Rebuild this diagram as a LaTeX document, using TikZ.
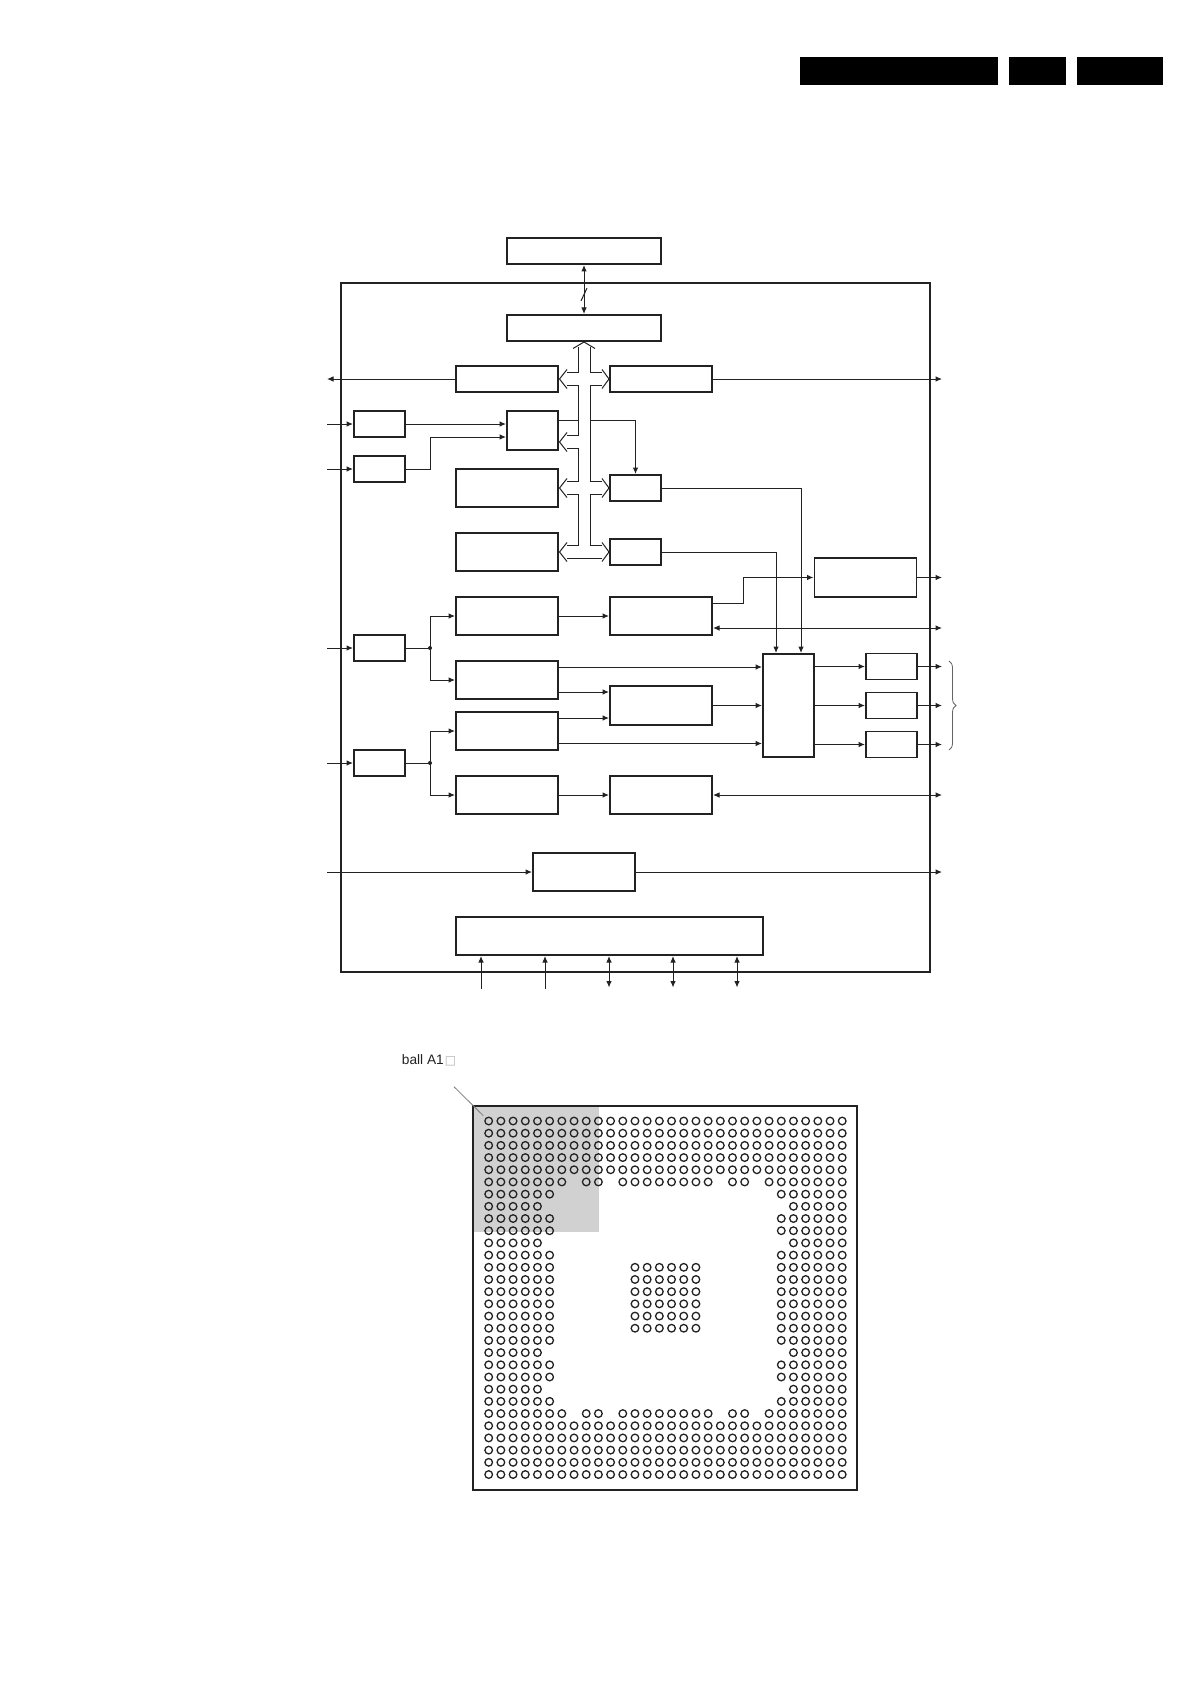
\documentclass[tikz,border=0pt]{standalone}
\usepackage{xcolor}
\usepackage{fontspec}
\setmainfont{Liberation Sans}
\newfontfamily\symfont{DejaVu Sans}
\usetikzlibrary{arrows.meta,positioning,decorations.pathreplacing}
\definecolor{ink}{HTML}{222222}
\begin{document}
\begin{tikzpicture}[
        x=1pt, y=-1pt,
        font=\fontsize{13.7}{16}\selectfont,
        block/.style={draw=ink, line width=1.8pt, inner sep=0pt, outer sep=0pt, minimum width=102pt, minimum height=38pt},
        shortblock/.style={block, minimum height=26pt},
        smallblock/.style={block, minimum width=51pt, minimum height=26pt},
        longblock/.style={block, minimum width=154pt, minimum height=26pt},
        frame/.style={draw=ink, line width=1.9pt, inner sep=0pt, outer sep=0pt},
        headbar/.style={fill=black, inner sep=0pt, minimum height=28pt},
        joint/.style={circle, fill=ink, inner sep=0pt, minimum size=4pt},
        plain/.style={draw=ink, line width=1pt},
        line/.style={plain, -{Latex[length=6.5pt,width=5.5pt]}, shorten >=1pt},
        both/.style={line, {Latex[length=6.5pt,width=5.5pt]}-{Latex[length=6.5pt,width=5.5pt]}, shorten <=1pt},
        busline/.style={plain, line join=miter},
        ball/.style={draw=ink, line width=1.3pt}
    ]
        \useasboundingbox (0,0) rectangle (1192,1685);
        \fill[white] (0,0) rectangle (1192,1685);

        \node[headbar, minimum width=198pt] (bara) at (899,71) {};
        \node[headbar, minimum width=57pt, right=11pt of bara] (barb) {};
        \node[headbar, minimum width=86pt, right=10.5pt of barb] (barc) {};

        \node[frame, minimum width=589pt, minimum height=689pt] (chip) at (635.5,627.5) {};
        \node[longblock] (extmem) at (584,251) {};
        \node[longblock, below=51pt of extmem] (memctl) {};
        \node[shortblock] (leftif) at (507,379) {};
        \node[shortblock, right=52pt of leftif] (rightif) {};
        \node[smallblock] (inbufa) at (379.5,424) {};
        \node[smallblock, below=19pt of inbufa] (inbufb) {};
        \node[smallblock, minimum height=39pt] (merge) at (532.5,430.5) {};
        \node[block] (rama) at (507,488) {};
        \node[block, below=26pt of rama] (ramb) {};
        \node[smallblock, right=52pt of rama] (tapa) {};
        \node[smallblock, right=52pt of ramb] (tapb) {};
        \node[block, below=26pt of ramb] (deca) {};
        \node[block, right=52pt of deca] (proca) {};
        \node[block, below=26pt of deca] (decb) {};
        \node[block, below=13pt of decb] (decc) {};
        \node[block, below=26pt of decc] (decd) {};
        \node[block, right=52pt of decd] (procd) {};
        \node[block, minimum height=39pt] (scale) at (661,705.5) {};
        \node[smallblock] (ina) at (379.5,648) {};
        \node[smallblock] (inb) at (379.5,763) {};
        \node[joint] (ja) at (430,648) {};
        \node[joint] (jb) at (430,763) {};
        \node[smallblock, minimum height=103pt] (mux) at (788.5,705.5) {};
        \node[smallblock, right=52pt of mux] (dacb) {};
        \node[smallblock, above=13pt of dacb] (daca) {};
        \node[smallblock, below=13pt of dacb] (dacc) {};
        \node[block, minimum height=39pt] (outblk) at (865.5,577.5) {};
        \node[block] (sysblk) at (584,872) {};
        \node[block, minimum width=307pt] (ctlblk) at (609.5,936) {};

        \coordinate (lim) at (327,0);
        \coordinate (rim) at (943,0);
        \coordinate (low) at (0,988.5);
        \coordinate (busl) at (578,0);
        \coordinate (busr) at (590,0);
        \coordinate (buscut) at (584,294.5);
        \coordinate (mergeout) at ([yshift=10.5pt]merge.east);
        \coordinate (mergein) at ([yshift=-6.5pt]merge.west);
        \coordinate (procahi) at ([yshift=12.5pt]proca.east);
        \coordinate (procalo) at ([yshift=-12pt]proca.east);
        \coordinate (decbhi) at ([yshift=13pt]decb.east);
        \coordinate (decblo) at ([yshift=-12pt]decb.east);
        \coordinate (decchi) at ([yshift=13pt]decc.east);
        \coordinate (decclo) at ([yshift=-12.5pt]decc.east);
        \coordinate (bracetop) at (949,661);
        \coordinate (bracelow) at (949,750);

        \draw[both] (extmem.south) -- (memctl.north);
        \draw[plain] ([shift={(-3,6.3)}]buscut) -- ([shift={(3,-6.3)}]buscut);

        \draw[busline] (573,348.5) -- (584,342) -- (595,348.5);
        \draw[busline] (busl |- 0,347) -- (578,372.5) -- (567,372.5);
        \draw[busline] (567,385.5) -- (578,385.5) -- (578,435) -- (567,435);
        \draw[busline] (567,448) -- (578,448) -- (578,481) -- (567,481);
        \draw[busline] (567,494) -- (578,494) -- (578,545) -- (567,545);
        \draw[busline] (busr |- 0,347) -- (590,372.5) -- (602,372.5);
        \draw[busline] (602,385.5) -- (590,385.5) -- (590,481) -- (602,481);
        \draw[busline] (602,494) -- (590,494) -- (590,545) -- (602,545);
        \draw[busline] (567,558) -- (602,558);
        \foreach \n/\dy in {leftif/0,merge/11.5,rama/0,ramb/0}
            \draw[busline] ([shift={(9,\dy-9.5)}]\n.east) -- ([shift={(1.5,\dy)}]\n.east) -- ([shift={(9,\dy+9.5)}]\n.east);
        \foreach \n in {rightif,tapa,tapb}
            \draw[busline] ([shift={(-8,-9.5)}]\n.west) -- ([shift={(-1,0)}]\n.west) -- ([shift={(-8,9.5)}]\n.west);

        \draw[line, shorten >=0pt] (leftif.west) -- (leftif.west -| lim);
        \draw[line] (rightif.east) -- (rightif.east -| rim);
        \draw[line] (inbufa.west -| lim) -- (inbufa.west);
        \draw[line] (inbufb.west -| lim) -- (inbufb.west);
        \draw[line] (inbufa.east) -- (inbufa.east -| merge.west);
        \draw[line] (inbufb.east) -- ++(25,0) |- (mergein);
        \draw[plain] (mergeout) -- (mergeout -| busl);
        \draw[line] (mergeout -| busr) -| (tapa.north);
        \draw[line] (tapa.east) -| ([xshift=12.5pt]mux.north);
        \draw[line] (tapb.east) -| ([xshift=-12.5pt]mux.north);

        \draw[line] (ina.west -| lim) -- (ina.west);
        \draw[line] (inb.west -| lim) -- (inb.west);
        \draw[plain] (ina.east) -- (ja.center);
        \draw[plain] (inb.east) -- (jb.center);
        \draw[line] (ja.center) |- (deca.west);
        \draw[line] (ja.center) |- (decb.west);
        \draw[line] (jb.center) |- (decc.west);
        \draw[line] (jb.center) |- (decd.west);
        \draw[line] (deca.east) -- (proca.west);
        \draw[line] (decd.east) -- (procd.west);
        \draw[line] (decbhi) -- (decbhi -| mux.west);
        \draw[line] (decblo) -- (decblo -| scale.west);
        \draw[line] (decchi) -- (decchi -| scale.west);
        \draw[line] (decclo) -- (decclo -| mux.west);
        \draw[line] (scale.east) -- (mux.west);
        \draw[line] (procahi) -- ++(31,0) |- (outblk.west);
        \draw[line] (outblk.east) -- (outblk.east -| rim);
        \draw[both] (procalo) -- (procalo -| rim);
        \draw[both] (procd.east) -- (procd.east -| rim);
        \foreach \n in {daca,dacb,dacc} {
            \draw[line] (mux.east |- \n.west) -- (\n.west);
            \draw[line] (\n.east) -- (\n.east -| rim);
        }
        \draw[draw=ink!70, line width=.8pt, decorate, decoration={brace, amplitude=7pt}] (bracetop) -- (bracelow);

        \draw[line] (sysblk.west -| lim) -- (sysblk.west);
        \draw[line] (sysblk.east) -- (sysblk.east -| rim);
        \foreach \dx in {25,89}
            \draw[line] ([xshift=\dx pt]ctlblk.south west |- low) -- ([xshift=\dx pt]ctlblk.south west);
        \foreach \dx in {153,217,281}
            \draw[both] ([xshift=\dx pt]ctlblk.south west |- low) -- ([xshift=\dx pt]ctlblk.south west);

        \fill[black!18] (473,1106) rectangle ++(126,126);
        \node[frame, minimum width=384pt, minimum height=384pt] (pkg) at (665,1298) {};
        \node[anchor=base west, inner sep=0pt, text=ink] (ballname) at (401.7,1064) {ball A1\hspace{1pt}{\symfont\color{black!30}\fontsize{12}{12}\selectfont □}};
        \coordinate (leadfrom) at (454,1086.7);
        \coordinate (leadto) at (483.3,1115.7);
        \draw[draw=ink!60, line width=.8pt] (leadfrom) -- (leadto);

        \foreach \r in {0,...,4,25,26,27,28,29}
            \foreach \c in {0,...,29}
                \draw[ball] (488.7+12.19*\c,1121+12.19*\r) circle (3.8);
        \foreach \r in {5,24}
            \foreach \c in {0,...,6,8,9,11,12,13,14,15,16,17,18,20,21,23,24,25,26,27,28,29}
                \draw[ball] (488.7+12.19*\c,1121+12.19*\r) circle (3.8);
        \foreach \r in {6,8,9,11,12,13,14,15,16,17,18,20,21,23}
            \foreach \c in {0,...,5,24,25,26,27,28,29}
                \draw[ball] (488.7+12.19*\c,1121+12.19*\r) circle (3.8);
        \foreach \r in {7,10,19,22}
            \foreach \c in {0,...,4,25,26,27,28,29}
                \draw[ball] (488.7+12.19*\c,1121+12.19*\r) circle (3.8);
        \foreach \r in {12,...,17}
            \foreach \c in {12,...,17}
                \draw[ball] (488.7+12.19*\c,1121+12.19*\r) circle (3.8);
    \end{tikzpicture}
\end{document}
